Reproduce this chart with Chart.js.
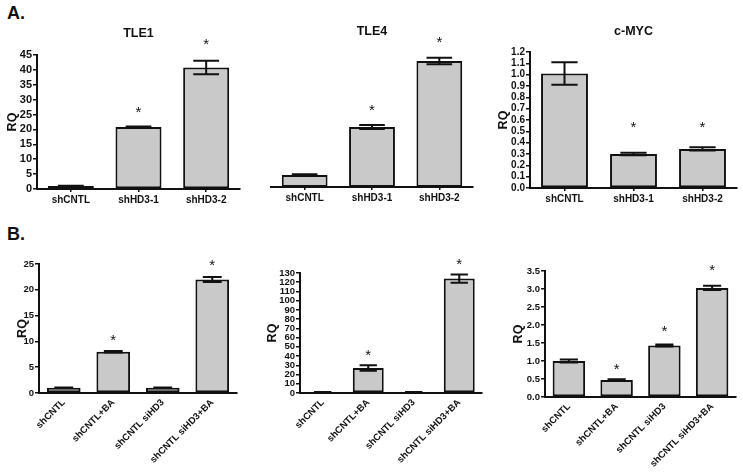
<!DOCTYPE html>
<html>
<head>
<title>RQ panels</title>
<script src="https://cdn.jsdelivr.net/npm/chart.js@4.4.0/dist/chart.umd.min.js"></script>
<style>
    body { margin: 0; background: #fff; font-family: 'Liberation Sans', Arial, sans-serif; }
    #wrap { position: relative; width: 743px; height: 475px; overflow: hidden; }
    #wrap canvas { position: absolute; left: 0; top: 0; }
    .tag { position: absolute; font-weight: bold; font-size: 18px; color: #111; line-height: 20px; }
</style>
</head>
<body>
<div id="wrap">
    <div class="tag" style="left:7px;top:3px">A.</div>
    <div class="tag" style="left:7px;top:224px">B.</div>
    <canvas id="c0" width="743" height="475"></canvas>
    <canvas id="c1" width="743" height="475"></canvas>
    <canvas id="c2" width="743" height="475"></canvas>
    <canvas id="c3" width="743" height="475"></canvas>
    <canvas id="c4" width="743" height="475"></canvas>
    <canvas id="c5" width="743" height="475"></canvas>
</div>
<script>
    // categories
    const groupsA = ['shCNTL', 'shHD3-1', 'shHD3-2'];
    const groupsB = ['shCNTL', 'shCNTL+BA', 'shCNTL siHD3', 'shCNTL siHD3+BA'];

    // panel A values (mean, error, asterisk height)
    const tle1Mean = [1.0, 20.8, 40.8];
    const tle1Err  = [0.1, 0.2, 2.3];
    const tle1Star = [null, 27, 50];

    const tle4Mean = [1.0, 5.0, 10.5];
    const tle4Err  = [0.06, 0.17, 0.27];
    const tle4Star = [null, 6.7, 12.4];

    const mycMean = [1.01, 0.30, 0.345];
    const mycErr  = [0.10, 0.012, 0.015];
    const mycStar = [null, 0.57, 0.57];

    // panel B values
    const b1Mean = [1.0, 8.0, 1.0, 22.0];
    const b1Err  = [0.05, 0.15, 0.05, 0.5];
    const b1Star = [null, 11, null, 25.4];

    const b2Mean = [1.0, 27, 1.0, 124];
    const b2Err  = [0.2, 3, 0.2, 4.5];
    const b2Star = [null, 45.5, null, 144];

    const b3Mean = [1.0, 0.47, 1.43, 3.03];
    const b3Err  = [0.04, 0.02, 0.03, 0.06];
    const b3Star = [null, 0.88, 1.94, 3.63];

    // y axis ticks per panel
    const yMax  = [45, 11, 1.2, 25, 130, 3.5];
    const yStep = [5, 1, 0.1, 5, 10, 0.5];
    const yDec  = [0, 0, 1, 0, 0, 1];
    const titles = ['TLE1', 'TLE4', 'c-MYC', '', '', ''];

    // layout of each panel on the page
    const panels = [
        { labels: groupsA, mean: tle1Mean, err: tle1Err, star: tle1Star, area: {l: 37, t: 55, r: 240, b: 189}, rqX: 12, titleY: 34, tickFont: 11, labFont: 10, rot: 0, showY: true },
        { labels: groupsA, mean: tle4Mean, err: tle4Err, star: tle4Star, area: {l: 271, t: 55, r: 473, b: 187}, rqX: 0, titleY: 32, tickFont: 10, labFont: 10, rot: 0, showY: false },
        { labels: groupsA, mean: mycMean, err: mycErr, star: mycStar, area: {l: 530, t: 52, r: 737, b: 188}, rqX: 503, titleY: 32, tickFont: 10, labFont: 10, rot: 0, showY: true },
        { labels: groupsB, mean: b1Mean, err: b1Err, star: b1Star, area: {l: 39, t: 264, r: 237, b: 393}, rqX: 22, titleY: 0, tickFont: 9.5, labFont: 9.5, rot: 45, showY: true },
        { labels: groupsB, mean: b2Mean, err: b2Err, star: b2Star, area: {l: 300, t: 273, r: 482, b: 393}, rqX: 272, titleY: 0, tickFont: 9.5, labFont: 9.5, rot: 45, showY: true },
        { labels: groupsB, mean: b3Mean, err: b3Err, star: b3Star, area: {l: 545, t: 271, r: 736, b: 397}, rqX: 518, titleY: 0, tickFont: 9.5, labFont: 9.5, rot: 45, showY: true }
    ];

    const W = 743, H = 475;
    const ink = '#111';

    // error bars, asterisks and titles
    const extras = {
        id: 'extras',
        afterDatasetsDraw(chart, args, opts) {
            const p = opts.panel;
            const ctx = chart.ctx;
            const ys = chart.scales.y;
            const bars = chart.getDatasetMeta(0).data;
            ctx.save();
            ctx.strokeStyle = ink;
            ctx.lineWidth = 2;
            bars.forEach((bar, i) => {
                const e = p.err[i];
                const top = ys.getPixelForValue(p.mean[i] + e);
                const bot = ys.getPixelForValue(p.mean[i] - e);
                const half = bar.width * 0.28;
                ctx.beginPath();
                ctx.moveTo(bar.x, top); ctx.lineTo(bar.x, bot);
                ctx.moveTo(bar.x - half, top); ctx.lineTo(bar.x + half, top);
                ctx.moveTo(bar.x - half, bot); ctx.lineTo(bar.x + half, bot);
                ctx.stroke();
            });
            ctx.fillStyle = ink;
            ctx.font = '15px "Liberation Sans", Arial, sans-serif';
            ctx.textAlign = 'center';
            ctx.textBaseline = 'alphabetic';
            bars.forEach((bar, i) => {
                if (p.star[i] == null) return;
                ctx.fillText('*', bar.x, ys.getPixelForValue(p.star[i]) + 8.5);
            });
            if (opts.title) {
                const a = chart.chartArea;
                ctx.font = 'bold 12.5px "Liberation Sans", Arial, sans-serif';
                ctx.textBaseline = 'middle';
                ctx.fillText(opts.title, (a.left + a.right) / 2, p.titleY);
            }
            ctx.restore();
        }
    };

    panels.forEach((p, k) => {
        const a = p.area;
        const wY = p.showY ? a.l - p.rqX + 6 : 0;
        const hX = p.rot ? 76 : 22;
        new Chart(document.getElementById('c' + k), {
            type: 'bar',
            data: {
                labels: p.labels,
                datasets: [{
                    data: p.mean,
                    backgroundColor: '#c9c9c9',
                    borderColor: ink,
                    borderWidth: 2,
                    borderSkipped: false,
                    barPercentage: 0.68,
                    categoryPercentage: 1
                }]
            },
            plugins: [extras],
            options: {
                responsive: false,
                animation: false,
                layout: { padding: { left: a.l - wY, top: a.t, right: W - a.r, bottom: H - a.b - hX } },
                plugins: {
                    legend: { display: false },
                    tooltip: { enabled: false },
                    extras: { panel: p, title: titles[k] }
                },
                scales: {
                    x: {
                        afterFit(s) { s.height = hX; },
                        grid: { display: true, offset: false, drawOnChartArea: false, drawTicks: !p.rot, tickLength: 3, color: ink, lineWidth: 1.5 },
                        border: { display: true, color: ink, width: 2 },
                        ticks: {
                            autoSkip: false, maxRotation: p.rot, minRotation: p.rot,
                            padding: p.rot ? 4 : 2, color: ink,
                            font: { family: 'Liberation Sans', size: p.labFont, weight: 'bold' }
                        }
                    },
                    y: {
                        display: p.showY,
                        min: 0, max: yMax[k],
                        afterFit(s) { s.width = wY; },
                        grid: { drawOnChartArea: false, drawTicks: true, tickLength: 4, color: ink, lineWidth: 1.5 },
                        border: { display: true, color: ink, width: 2 },
                        ticks: {
                            stepSize: yStep[k], autoSkip: false, padding: 1, color: ink,
                            font: { family: 'Liberation Sans', size: p.tickFont, weight: 'bold', lineHeight: 1 },
                            callback: v => v.toFixed(yDec[k])
                        },
                        title: {
                            display: true, text: 'RQ', color: ink, padding: 0,
                            font: { family: 'Liberation Sans', size: 12.5, weight: 'bold', lineHeight: 1 }
                        }
                    }
                }
            }
        });
    });
</script>
</body>
</html>
